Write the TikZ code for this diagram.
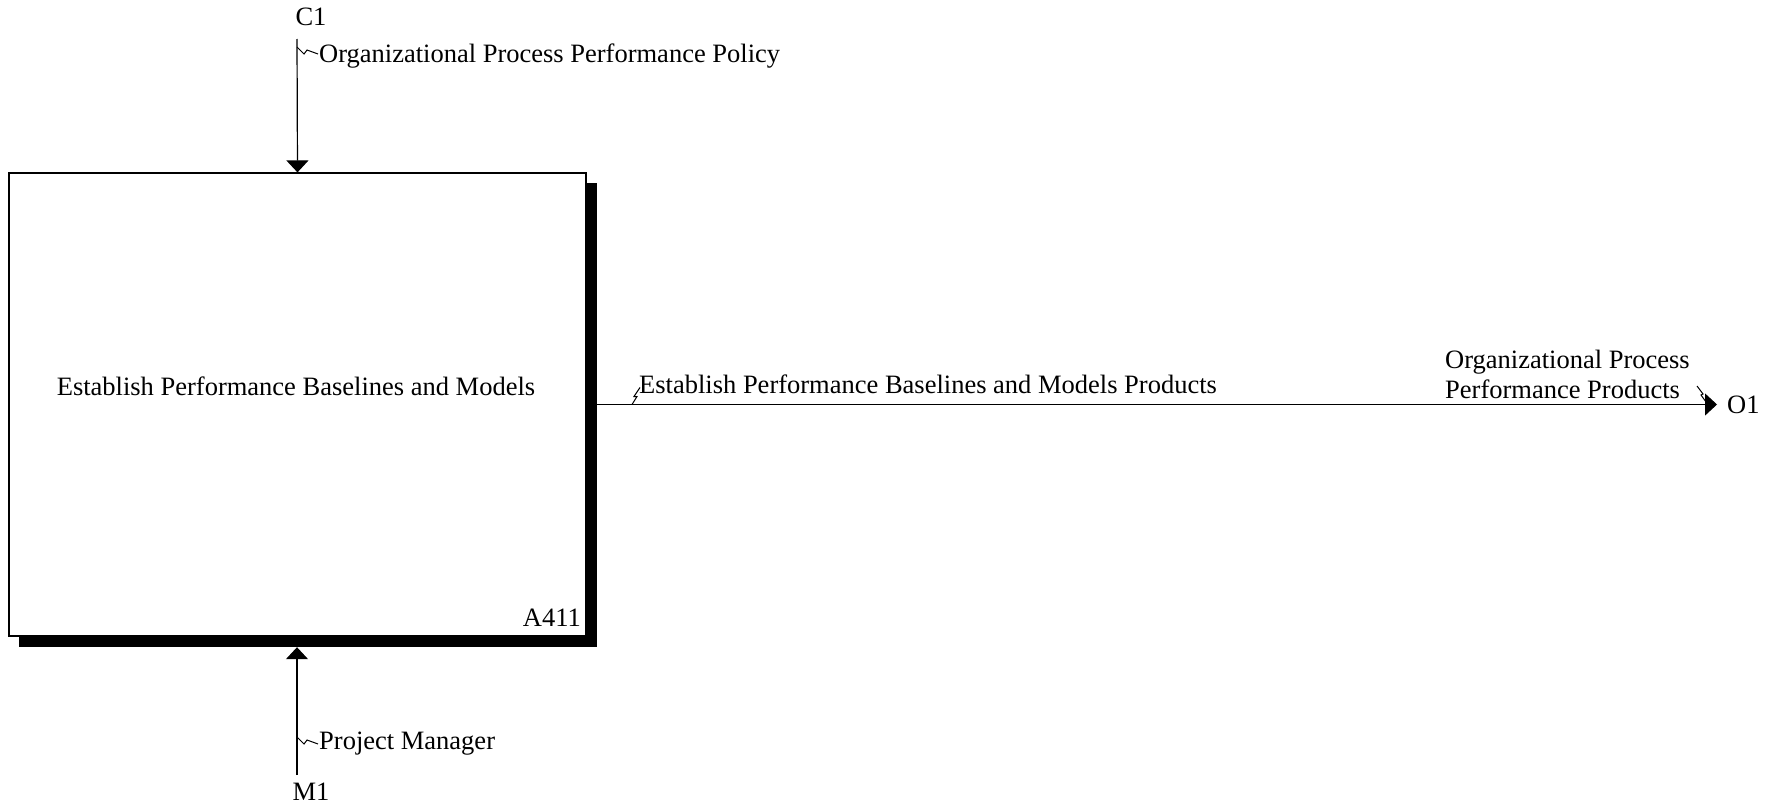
\documentclass[tikz,border=0pt]{standalone}
\usepackage{fontspec}
\setmainfont{Liberation Serif}
\usetikzlibrary{arrows.meta}
\begin{document}
\begin{tikzpicture}[x=1pt,y=-1pt,
  lbl/.style={inner sep=0pt,font=\fontsize{26.5}{31}\selectfont},
  conn/.style={line width=1.2pt,-{Triangle[length=12pt,width=22pt]}},
  squig/.style={line width=1pt},
  boxst/.style={draw,line width=1.2pt,fill=white,minimum width=577pt,minimum height=463pt,inner sep=0pt},
  shadowst/.style={fill=black,minimum width=578pt,minimum height=464pt,inner sep=0pt}]
\useasboundingbox (0,0) rectangle (1765,803);
\node[shadowst] (shadow) at (308,415) {};
\node[boxst] (act) at (297.5,404.5) {};
\node[lbl,anchor=base] (actlbl) at (296,395) {Establish Performance Baselines and Models};
\node[lbl,anchor=base east] (num) at (581,626) {A411};
% control
\coordinate (c1top) at (297,39);
\node[lbl,anchor=base] (c1) at (311,25) {C1};
\draw[conn] (c1top) -- (act.north);
\coordinate (c1s) at (297,47);
\draw[squig] (c1s) -- ++(7,7) -- ++(3,-4) -- ++(11,4);
\node[lbl,anchor=base west] (c1lbl) at (319,62) {Organizational Process Performance Policy};
% mechanism
\coordinate (m1bot) at (297,775);
\node[lbl,anchor=base] (m1) at (311,800) {M1};
\draw[conn] (m1bot) -- (m1bot |- shadow.south);
\coordinate (m1s) at (297,737);
\draw[squig] (m1s) -- ++(7,7) -- ++(3,-4) -- ++(11,4);
\node[lbl,anchor=base west] (m1lbl) at (319,749) {Project Manager};
% output
\coordinate (o1tip) at (1717,404.5);
\draw[conn] (act.east) -- (o1tip);
\node[lbl,anchor=base west] (o1) at (1727,413) {O1};
\coordinate (outs) at (632,404.5);
\draw[squig] (outs) -- ++(5,-8) -- ++(-3,0) -- ++(6,-9);
\node[lbl,anchor=base west] (outlbl) at (639,393) {Establish Performance Baselines and Models Products};
\node[lbl,anchor=base west,align=left] (o1lbl1) at (1445,368) {Organizational Process};
\node[lbl,anchor=base west,align=left] (o1lbl2) at (1445,398) {Performance Products};
\coordinate (o1s) at (1706,402);
\draw[squig] (o1s) -- ++(-5,-7) -- ++(2,-1) -- ++(-6,-8);
\end{tikzpicture}
\end{document}
